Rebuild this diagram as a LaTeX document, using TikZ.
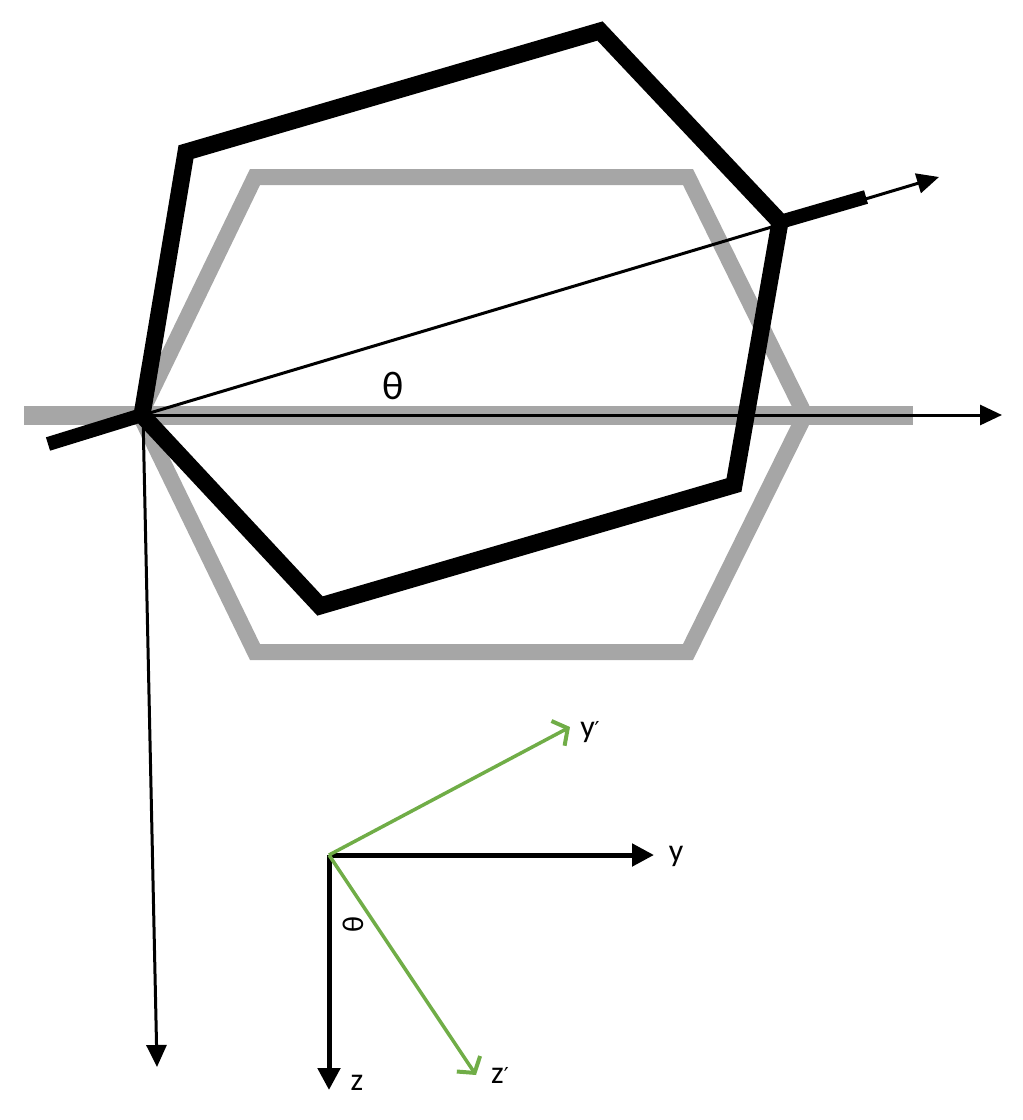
\documentclass[tikz,border=0pt]{standalone}
\usepackage{fontspec}
\setmainfont{Carlito}
\newfontfamily\primefont{DejaVu Sans}
\usetikzlibrary{arrows.meta}
\definecolor{hexgray}{HTML}{A6A6A6}
\definecolor{axgreen}{HTML}{70AD47}
\tikzset{
  grayhex/.style={draw=hexgray, line width=16pt, line join=miter},
  blackhex/.style={draw=black, line width=17pt, line join=miter},
  thinarrow/.style={draw=black, line width=3pt, -{Triangle[length=22pt,width=20pt]}},
  axarrow/.style={draw=black, line width=5pt, -{Triangle[length=22pt,width=22pt]}},
  greenarrow/.style={draw=axgreen, line width=3.5pt, -{Straight Barb[length=11pt,width=28pt,line width=4pt]}},
  lbl/.style={font=\fontsize{32}{36}\selectfont, inner sep=0pt}
}
\newcommand{\prm}{{\primefont\fontsize{22}{24}\selectfont ′}}
\begin{document}
\begin{tikzpicture}[x=1pt,y=-1pt]
\useasboundingbox (0,0) rectangle (1023,1120);
% gray hexagon
\coordinate (gL) at (140,415);
\coordinate (gTL) at (255,177);
\coordinate (gTR) at (688,177);
\coordinate (gR) at (805,415);
\coordinate (gBR) at (688,652);
\coordinate (gBL) at (255,652);
\coordinate (gbarA) at (24,415);
\coordinate (gbarB) at (913,415);
\draw[grayhex] (gL) -- (gTL) -- (gTR) -- (gR) -- (gBR) -- (gBL) -- cycle;
\draw[draw=hexgray, line width=19pt] (gbarA) -- (gbarB);
% black rotated hexagon
\coordinate (bL) at (142,415);
\coordinate (bTL) at (186,152);
\coordinate (bT) at (600,31);
\coordinate (bR) at (780,222);
\coordinate (bBR) at (734,485);
\coordinate (bB) at (320,606);
\coordinate (bbarA) at (48,444);
\coordinate (bbarB) at (866,197);
\draw[blackhex] (bL) -- (bTL) -- (bT) -- (bR) -- (bBR) -- (bB) -- cycle;
\draw[draw=black, line width=14pt] (bbarA) -- (bL);
\draw[draw=black, line width=14pt] (bR) -- (bbarB);
% thin axes
\coordinate (O) at (143,415);
\coordinate (rotEnd) at (939,177);
\coordinate (horEnd) at (1002,415);
\coordinate (vertEnd) at (157,1067);
\draw[thinarrow] (O) -- (rotEnd);
\draw[thinarrow] (O) -- (horEnd);
\draw[thinarrow] (O) -- (vertEnd);
\node[lbl, font=\fontsize{40}{44}\selectfont] (th1) at (393,386) {θ};
% lower coordinate frame
\coordinate (o2) at (329,855);
\coordinate (yEnd) at (654,855);
\coordinate (zEnd) at (329,1090);
\coordinate (ypEnd) at (570,727);
\coordinate (zpEnd) at (476,1075);
\draw[axarrow] (o2) -- (yEnd);
\draw[axarrow] (o2) -- (zEnd);
\draw[greenarrow] (o2) -- (ypEnd);
\draw[greenarrow] (o2) -- (zpEnd);
\node[lbl] (ylab) at (676,856) {y};
\node[lbl] (zlab) at (357,1083) {z};
\node[lbl] (yplab) at (590,732) {y\prm};
\node[lbl] (zplab) at (500,1075) {z\prm};
\node[lbl, rotate=90, font=\fontsize{30}{34}\selectfont] (th2) at (353,925) {θ};
\end{tikzpicture}
\end{document}
